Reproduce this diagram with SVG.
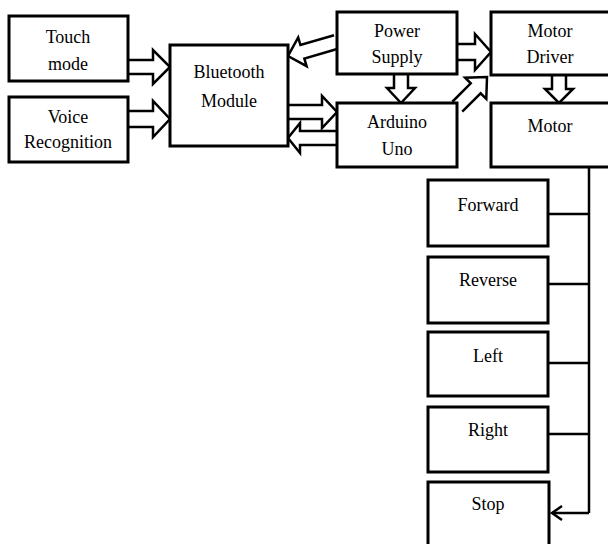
<svg xmlns="http://www.w3.org/2000/svg" width="608" height="544" viewBox="0 0 608 544">
<style>
.box{fill:#fff;stroke:#000;stroke-width:3}
.arr{fill:#fff;stroke:#000;stroke-width:2.5;stroke-linejoin:miter}
.ln{fill:none;stroke:#000;stroke-width:2.5}
.t{font-family:'Liberation Serif',serif;font-size:18px;fill:#000;text-anchor:middle}
</style>
<rect width="608" height="544" fill="#fff"/>
<g id="connectors">
<path class="arr" d="M128,60 H153 V50 L170,67 L153,84 V74 H128"/>
<path class="arr" d="M128,111 H153 V101 L170,119 L153,137 V127 H128"/>
<path class="arr" transform="translate(288,56) rotate(163.7)" d="M-50,-7 H-15 V-15 L0,0 L-15,15 V7 H-50"/>
<path class="arr" d="M288,105 H322 V96 L337,112 L322,128 V119 H288"/>
<path class="arr" d="M337,131 H300 V123 L288,138 L300,153 V145 H337"/>
<path class="arr" d="M394,74 V88 H387 L401,103 L415,88 H408 V74"/>
<path class="arr" d="M457,44 H475 V34 L491,52 L475,70 V60 H457"/>
<path class="arr" transform="translate(487,77) rotate(-45)" d="M-42,-7 H-16 V-15 L0,0 L-16,15 V7 H-42"/>
<path class="arr" d="M552,75 V89 H545 L559,103 L573,89 H566 V75"/>
<path class="ln" d="M589,167 V513"/>
<path class="ln" d="M548,214 H589"/>
<path class="ln" d="M548,284 H589"/>
<path class="ln" d="M548,363 H589"/>
<path class="ln" d="M548,434 H589"/>
<path class="ln" d="M589,513 H552"/>
<path class="ln" d="M562,506 L552,513 L562,520"/>
</g>
<g id="touch"><rect class="box" x="9" y="16" width="119" height="65"/><text class="t" font-family="Liberation Serif" x="68" y="43">Touch</text><text class="t" font-family="Liberation Serif" x="68" y="70">mode</text></g>
<g id="voice"><rect class="box" x="9" y="97" width="119" height="65"/><text class="t" font-family="Liberation Serif" x="68" y="123">Voice</text><text class="t" font-family="Liberation Serif" x="68" y="148">Recognition</text></g>
<g id="bluetooth"><rect class="box" x="170" y="45" width="118" height="101"/><text class="t" font-family="Liberation Serif" x="229" y="78">Bluetooth</text><text class="t" font-family="Liberation Serif" x="229" y="107">Module</text></g>
<g id="power"><rect class="box" x="337" y="12" width="120" height="62"/><text class="t" font-family="Liberation Serif" x="397" y="37">Power</text><text class="t" font-family="Liberation Serif" x="397" y="63">Supply</text></g>
<g id="arduino"><rect class="box" x="337" y="103" width="120" height="64"/><text class="t" font-family="Liberation Serif" x="397" y="128">Arduino</text><text class="t" font-family="Liberation Serif" x="397" y="155">Uno</text></g>
<g id="driver"><rect class="box" x="491" y="12" width="130" height="63"/><text class="t" font-family="Liberation Serif" x="550" y="37">Motor</text><text class="t" font-family="Liberation Serif" x="550" y="63">Driver</text></g>
<g id="motor"><rect class="box" x="491" y="103" width="130" height="64"/><text class="t" font-family="Liberation Serif" x="550" y="132">Motor</text></g>
<g id="forward"><rect class="box" x="428" y="180" width="120" height="66"/><text class="t" font-family="Liberation Serif" x="488" y="211">Forward</text></g>
<g id="reverse"><rect class="box" x="428" y="257" width="120" height="66"/><text class="t" font-family="Liberation Serif" x="488" y="286">Reverse</text></g>
<g id="left"><rect class="box" x="428" y="332" width="120" height="64"/><text class="t" font-family="Liberation Serif" x="488" y="362">Left</text></g>
<g id="right"><rect class="box" x="428" y="407" width="120" height="65"/><text class="t" font-family="Liberation Serif" x="488" y="436">Right</text></g>
<g id="stop"><rect class="box" x="428" y="482" width="121" height="72"/><text class="t" font-family="Liberation Serif" x="488" y="510">Stop</text></g>
</svg>
